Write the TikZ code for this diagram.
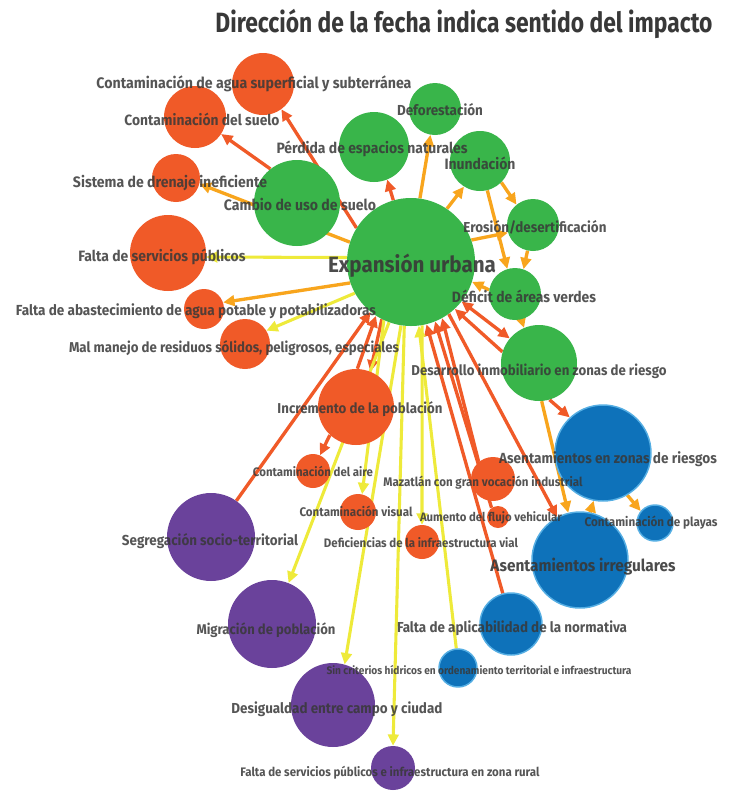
\documentclass[tikz,border=0pt]{standalone}
\usepackage{fontspec}
\usetikzlibrary{arrows.meta,backgrounds}
\newfontfamily\labfont{Fira Sans}[FakeStretch=0.93]
\newfontfamily\titfont{Fira Sans}[FakeStretch=0.82]
\newlength\pxu
\setlength\pxu{0.75pt}
\newcommand\lbl[2]{\resizebox{#1\pxu}{!}{\labfont\bfseries #2}}
\definecolor{cred}{HTML}{F05A28}
\definecolor{cgreen}{HTML}{39B54A}
\definecolor{cblue}{HTML}{0E72BA}
\definecolor{cblueb}{HTML}{55AEE3}
\definecolor{cpurple}{HTML}{6A429B}
\definecolor{corange}{HTML}{F8A51D}
\definecolor{cyellow}{HTML}{EEEA3A}
\definecolor{ctext}{HTML}{383838}
\tikzset{
  bub/.style={circle,inner sep=0pt,minimum size={#1*1.5pt}},
  gnode/.style={bub=#1,fill=cgreen},
  rnode/.style={bub=#1,fill=cred},
  bnode/.style={bub=#1,fill=cblue,draw=cblueb,line width=1.1pt},
  pnode/.style={bub=#1,fill=cpurple},
  lab/.style={text=ctext,text opacity=0.85,inner sep=0pt,anchor=base},
  ered/.style={draw=cred,line width=2.5pt,->},
  eora/.style={draw=corange,line width=2.5pt,->},
  eyel/.style={draw=cyellow,line width=2.3pt,->},
}
\begin{document}
\begin{tikzpicture}[x=0.75pt,y=-0.75pt,>={Triangle[length=8.5pt,width=8pt]}]
\useasboundingbox (0,0) rectangle (740,808);

% title
\node[lab,text opacity=1] (title) at (464,32) {\resizebox{497\pxu}{!}{\titfont\bfseries Dirección de la fecha indica sentido del impacto}};

% green
\node[gnode=64] (E) at (411,262) {};
\node[gnode=43] (cambio) at (297,203) {};
\node[gnode=35] (perd) at (374,147) {};
\node[gnode=26] (defo) at (435,109) {};
\node[gnode=30] (inund) at (480,161) {};
\node[gnode=26] (eros) at (533,225) {};
\node[gnode=26] (defi) at (515,294) {};
\node[gnode=38] (desa) at (539,363) {};
% red
\node[rnode=31] (agua) at (263,84) {};
\node[rnode=31] (suelo) at (195,117) {};
\node[rnode=24] (dren) at (176,178) {};
\node[rnode=38] (fserv) at (168,253) {};
\node[rnode=20] (abast) at (204,309) {};
\node[rnode=25] (resid) at (245,344) {};
\node[rnode=38] (incr) at (356,407) {};
\node[rnode=17] (aire) at (313,471) {};
\node[rnode=18] (visual) at (358,512) {};
\node[rnode=17] (vial) at (422,542) {};
\node[rnode=22] (maza) at (493,479) {};
\node[rnode=11] (flujo) at (498,517) {};
% blue
\node[bnode=48] (azr) at (603,453) {};
\node[bnode=18] (playa) at (655,523) {};
\node[bnode=48] (airr) at (580,560) {};
\node[bnode=31] (norma) at (511,624) {};
\node[bnode=19] (hidr) at (458,668) {};
% purple
\node[pnode=44] (segr) at (211,537) {};
\node[pnode=44] (migr) at (272,624) {};
\node[pnode=42] (desig) at (333,705) {};
\node[pnode=22] (rural) at (393,768) {};

\begin{scope}[on background layer]
\fill[white] (0,0) rectangle (740,808);
\draw[ered] (E.148) -- (agua.-54);
\draw[ered] (cambio.128) -- (suelo.-33);
\draw[eora] (E.162) -- (dren.-14);
\draw[eyel] (E.176) -- (fserv.-6);
\draw[eora] (E.199) -- (abast.19);
\draw[eyel] (E.209) -- (resid.32);
\draw[ered] (E.106) -- (perd.-68);
\draw[eora] (E.82) -- (defo.-100);
\draw[eora] (E.56) -- (inund.-122);
\draw[eora] (inund.-45) -- (eros.129);
\draw[eora] (inund.-76) -- (defi.107);
\draw[eora] (eros.-102) -- (defi.71);
\draw[eora] (E.20) -- (eros.197);
\draw[eora] (defi.171) -- (E.-18);
\draw[eora] (defi.-76) -- (desa.113);
\draw[ered,<->] (E.-38) -- (desa.140);
\draw[ered] (desa.163) -- (E.-47);
\draw[ered] (desa.-74) -- (azr.133);
\draw[eora] (desa.-86) -- (airr.104);
\draw[eora] (airr.78) -- (azr.-101);
\draw[eora] (azr.-60) -- (playa.140);
\draw[ered] (E.-54) -- (airr.118);
\draw[ered] (maza.130) -- (E.-61);
\draw[ered] (flujo.125) -- (E.-68);
\draw[ered] (norma.105) -- (E.-76);
\draw[ered] (segr.55) -- (E.231);
\draw[ered] (E.243) -- (incr.68);
\draw[ered] (incr.88) -- (E.237);
\draw[ered] (incr.227) -- (aire.66);
\draw[eyel] (E.250) -- (migr.68);
\draw[eyel] (E.245) -- (visual.77);
\draw[eyel] (E.261) -- (desig.74);
\draw[eyel] (E.264) -- (rural.90);
\draw[eyel] (hidr.95) -- (E.-83);
\draw[eyel] (E.-80) -- (vial.90);
\end{scope}

% labels
\node[lab] (laguas) at (254,88) {\lbl{315}{Contaminación de agua superficial y subterránea}};
\node[lab] (lsuelo) at (202,125) {\lbl{155}{Contaminación del suelo}};
\node[lab] (ldren) at (170,187) {\lbl{194}{Sistema de drenaje ineficiente}};
\node[lab] (lcambio) at (300,210) {\lbl{152}{Cambio de uso de suelo}};
\node[lab] (lperd) at (372,153) {\lbl{191}{Pérdida de espacios naturales}};
\node[lab] (ldefo) at (440,115) {\lbl{86}{Deforestación}};
\node[lab] (linund) at (480,169) {\lbl{71}{Inundación}};
\node[lab] (leros) at (535,232) {\lbl{143}{Erosión/desertificación}};
\node[lab] (lfserv) at (162,261) {\lbl{167}{Falta de servicios públicos}};
\node[lab,text opacity=0.9] (lE) at (412,272) {\lbl{168}{Expansión urbana}};
\node[lab] (labast) at (196,315) {\lbl{360}{Falta de abastecimiento de agua potable y potabilizadoras}};
\node[lab] (lresid) at (234,352) {\lbl{330}{Mal manejo de residuos sólidos, peligrosos, especiales}};
\node[lab] (ldefi) at (524,302) {\lbl{144}{Déficit de áreas verdes}};
\node[lab] (ldesa) at (539,375) {\lbl{255}{Desarrollo inmobiliario en zonas de riesgo}};
\node[lab] (lincr) at (360,413) {\lbl{165}{Incremento de la población}};
\node[lab] (lazr) at (608,463) {\lbl{218}{Asentamientos en zonas de riesgos}};
\node[lab] (laire) at (313,476) {\lbl{120}{Contaminación del aire}};
\node[lab] (lmaza) at (483,486) {\lbl{199}{Mazatlán con gran vocación industrial}};
\node[lab] (lvisual) at (356,516) {\lbl{113}{Contaminación visual}};
\node[lab] (lflujo) at (491,521) {\lbl{142}{Aumento del flujo vehicular}};
\node[lab] (lplaya) at (651,526) {\lbl{133}{Contaminación de playas}};
\node[lab] (lsegr) at (210,545) {\lbl{176}{Segregación socio-territorial}};
\node[lab] (lvial) at (421,547) {\lbl{194}{Deficiencias de la infraestructura vial}};
\node[lab,text opacity=0.9] (lairr) at (583,571) {\lbl{185}{Asentamientos irregulares}};
\node[lab] (lmigr) at (266,634) {\lbl{139}{Migración de población}};
\node[lab] (lnorma) at (512,632) {\lbl{230}{Falta de aplicabilidad de la normativa}};
\node[lab] (lhidr) at (479,674) {\lbl{305}{Sin criterios hídricos en ordenamiento territorial e infraestructura}};
\node[lab] (ldesig) at (337,713) {\lbl{211}{Desigualdad entre campo y ciudad}};
\node[lab] (lrural) at (390,776) {\lbl{299}{Falta de servicios públicos e infraestructura en zona rural}};
\end{tikzpicture}
\end{document}
